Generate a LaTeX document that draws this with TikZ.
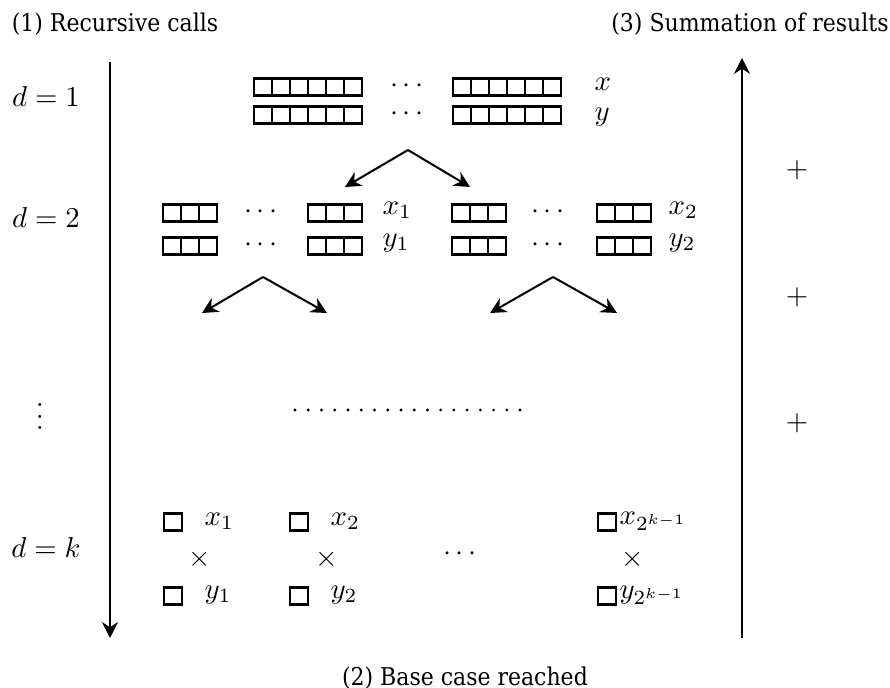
\documentclass[tikz,border=0pt]{standalone}
\usepackage{fontspec}
\usetikzlibrary{arrows.meta}
\newfontfamily\headfont{DejaVu Serif Condensed}
\newcommand\cellrow[3]{\foreach \k in {1,...,#3}{\draw[cellline] ({#1+(\k-1)*18},{#2-8.5}) rectangle ++(18,17);}}
\begin{document}
\begin{tikzpicture}[x=0.0122cm,y=-0.0122cm,
  cellline/.style={line width=0.75pt},
  arr/.style={line width=0.7pt,-{Stealth[length=5.5pt,width=5.5pt]}},
  bigarr/.style={line width=0.9pt,-{Stealth[length=5.5pt,width=5.5pt]}},
  head/.style={font=\headfont\fontsize{8.5}{10}\selectfont},
  lab/.style={inner sep=0pt}]
\useasboundingbox (0,0) rectangle (890,688);
% headings
\node[head] (h1) at (115,24) {(1) Recursive calls};
\node[head] (h3) at (750,24) {(3) Summation of results};
\node[head] (h2) at (465,678) {(2) Base case reached};
% vertical arrows
\coordinate (la) at (110,62); \coordinate (lb) at (110,638);
\coordinate (ra) at (742,638); \coordinate (rb) at (742,58);
\draw[bigarr] (la) -- (lb);
\draw[bigarr] (ra) -- (rb);
% level labels
\node[lab] (d1) at (46,97) {$d=1$};
\node[lab] (d2) at (46,218) {$d=2$};
\node[lab] (dv) at (40,408) {$\vdots$};
\node[lab] (dk) at (46,548) {$d=k$};
% plus signs
\node[lab] (p1) at (797,170) {$+$};
\node[lab] (p2) at (797,297) {$+$};
\node[lab] (p3) at (797,423) {$+$};
% level 1
\cellrow{254}{87}{6}
\cellrow{254}{115}{6}
\cellrow{453}{87}{6}
\cellrow{453}{115}{6}
\node[lab] (t1) at (407,86) {$\cdots$};
\node[lab] (t2) at (407,114) {$\cdots$};
\node[lab,anchor=west] (lx) at (594,84) {$x$};
\node[lab,anchor=west] (ly) at (594,117) {$y$};
% arrows level 1 -> 2
\coordinate (a0) at (408,150);
\coordinate (a1) at (345,187);
\coordinate (a2) at (470,187);
\draw[arr] (a0) -- (a1);
\draw[arr] (a0) -- (a2);
% level 2
\cellrow{163}{213}{3}
\cellrow{163}{246}{3}
\cellrow{308}{213}{3}
\cellrow{308}{246}{3}
\cellrow{452}{213}{3}
\cellrow{452}{246}{3}
\cellrow{597}{213}{3}
\cellrow{597}{246}{3}
\node[lab] (u1) at (261,212) {$\cdots$};
\node[lab] (u2) at (261,245) {$\cdots$};
\node[lab] (u3) at (548,212) {$\cdots$};
\node[lab] (u4) at (548,245) {$\cdots$};
\node[lab,anchor=west] (lx1) at (382,210) {$x_1$};
\node[lab,anchor=west] (ly1) at (382,243) {$y_1$};
\node[lab,anchor=west] (lx2) at (668,210) {$x_2$};
\node[lab,anchor=west] (ly2) at (668,243) {$y_2$};
% arrows level 2 -> 3
\coordinate (b0) at (263,277);
\coordinate (b1) at (202,313);
\coordinate (b2) at (327,313);
\coordinate (c0) at (553,277);
\coordinate (c1) at (490,313);
\coordinate (c2) at (617,313);
\draw[arr] (b0) -- (b1);
\draw[arr] (b0) -- (b2);
\draw[arr] (c0) -- (c1);
\draw[arr] (c0) -- (c2);
% dotted row
\foreach \i in {0,...,17}{\fill ({295+\i*13.24},410) circle (1.6);}
% level k
\cellrow{164}{522}{1}
\cellrow{164}{596}{1}
\cellrow{290}{522}{1}
\cellrow{290}{596}{1}
\cellrow{598}{522}{1}
\cellrow{598}{596}{1}
\node[lab,anchor=west] (kx1) at (204,521) {$x_1$};
\node[lab,anchor=west] (ky1) at (204,595) {$y_1$};
\node[lab,anchor=west] (kx2) at (330,521) {$x_2$};
\node[lab,anchor=west] (ky2) at (330,595) {$y_2$};
\node[lab,anchor=west] (kxn) at (619,521) {$x_{2^{k-1}}$};
\node[lab,anchor=west] (kyn) at (619,595) {$y_{2^{k-1}}$};
\node[lab] (m1) at (200,559) {$\times$};
\node[lab] (m2) at (327,559) {$\times$};
\node[lab] (m3) at (633,559) {$\times$};
\node[lab] (kd) at (460,554) {$\cdots$};
\end{tikzpicture}
\end{document}
